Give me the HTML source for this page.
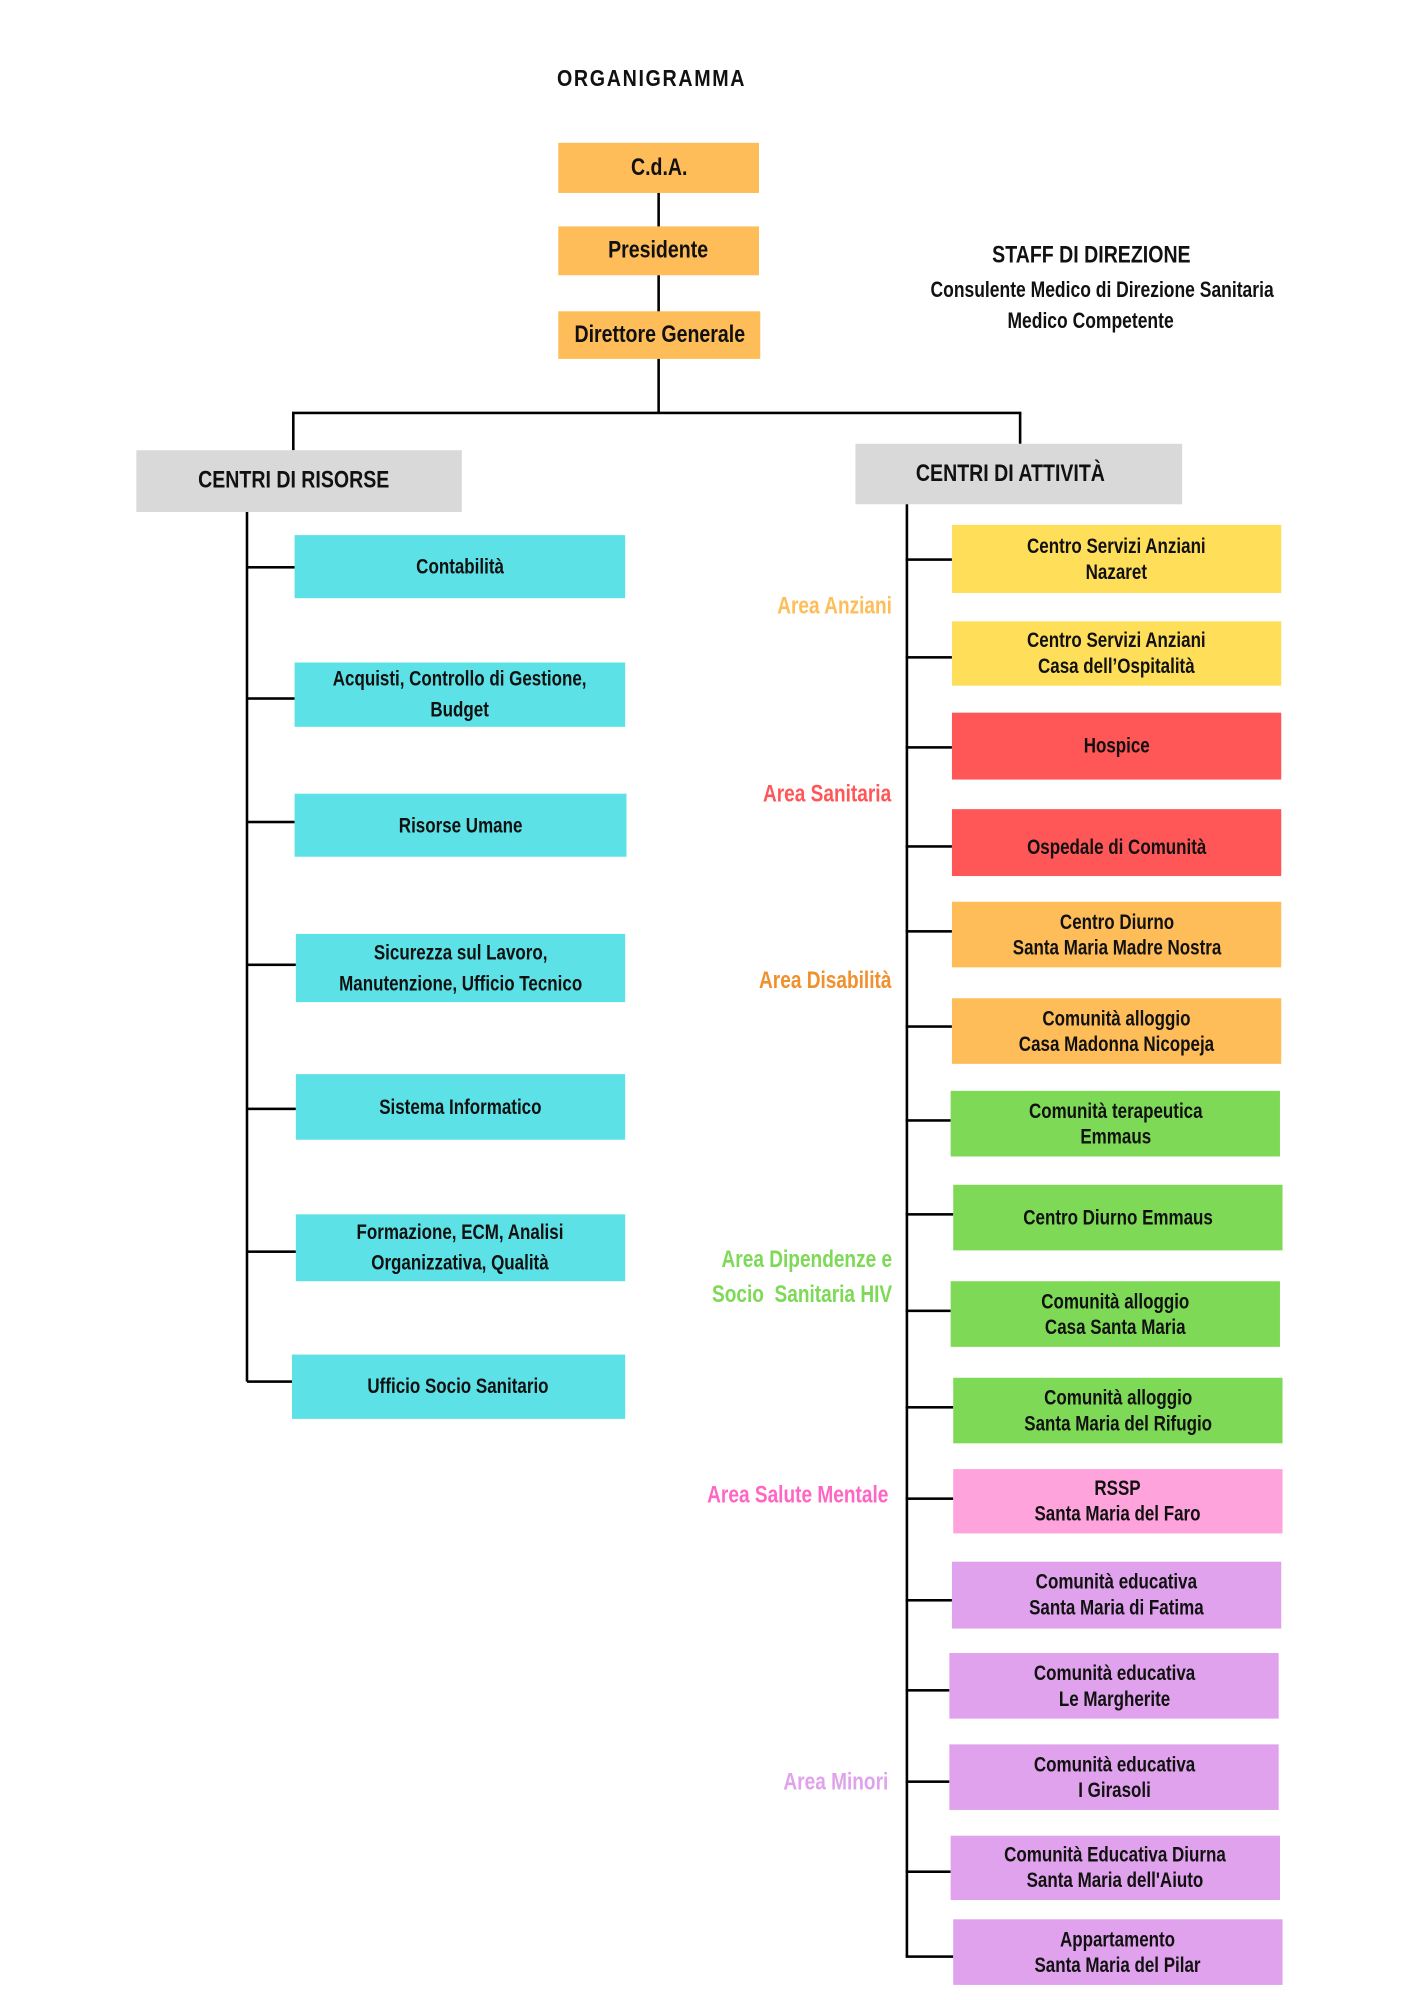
<!DOCTYPE html>
<html><head><meta charset="utf-8">
<style>
html,body{margin:0;padding:0;background:#fff;}
body{width:1415px;height:2000px;overflow:hidden;position:relative;}
#c{position:absolute;left:0;top:0;width:1100px;height:1555px;transform:scale(1.2864);transform-origin:0 0;
font-family:"Liberation Sans",sans-serif;font-weight:bold;color:#111;}
.b{position:absolute;display:flex;align-items:center;justify-content:center;text-align:center;font-size:16.5px;line-height:20px;}
.s{display:inline-block;transform:scaleX(.8);white-space:nowrap;}
.h{position:absolute;background:#000;height:1.5px;}
.v{position:absolute;background:#000;width:1.5px;}
.t{position:absolute;white-space:nowrap;}
.cy{background:#5CE1E6}.ye{background:#FFDE59}.rd{background:#FF5757}.or{background:#FFBD59}.gr{background:#7ED957}.pk{background:#FFA3DD}.li{background:#E0A2EC}
.a{position:absolute;right:407px;text-align:right;font-size:19px;line-height:27px;white-space:nowrap;transform:scaleX(.78);transform-origin:100% 50%;font-weight:bold;}
</style></head><body><div id="c">
<div class="t" style="left:406px;width:200px;text-align:center;top:51px;font-size:18px;letter-spacing:1.5px"><span class="s" style="transform:scaleX(.85)">ORGANIGRAMMA</span></div>

<div class="b or" style="left:434px;top:111px;width:156px;height:39px;font-size:19px"><span class="s">C.d.A.</span></div>
<div class="b or" style="left:434px;top:176px;width:156px;height:38px;font-size:19px"><span class="s">Presidente</span></div>
<div class="b or" style="left:434px;top:242px;width:157px;height:37px;font-size:19px"><span class="s">Direttore Generale</span></div>
<div class="v" style="left:511px;top:150px;height:26px"></div>
<div class="v" style="left:511px;top:214px;height:28px"></div>
<div class="v" style="left:511px;top:279px;height:42px"></div>
<div class="h" style="left:227px;top:320px;width:567px"></div>
<div class="v" style="left:227px;top:321px;height:29px"></div>
<div class="v" style="left:792px;top:321px;height:24px"></div>

<div class="t" style="left:690px;width:316px;text-align:center;top:188px;font-size:19px"><span class="s">STAFF DI DIREZIONE</span></div>
<div class="t" style="left:690px;width:316px;text-align:center;top:216px;font-size:17px"><span class="s">Consulente Medico di Direzione Sanitaria</span></div>
<div class="t" style="left:690px;width:316px;text-align:center;top:240px;font-size:17px"><span class="s">Medico Competente</span></div>

<div class="b" style="left:106px;top:350px;width:253px;height:48px;background:#D9D9D9;font-size:19px;justify-content:flex-start;padding-left:48px;box-sizing:border-box"><span class="s" style="transform-origin:0 50%">CENTRI DI RISORSE</span></div>
<div class="b" style="left:665px;top:345px;width:254px;height:47px;background:#D9D9D9;font-size:19px;justify-content:flex-start;padding-left:47px;box-sizing:border-box"><span class="s" style="transform-origin:0 50%">CENTRI DI ATTIVITÀ</span></div>

<div class="v" style="left:191px;top:398px;height:676px"></div>
<div class="h" style="left:192px;top:440px;width:37px"></div>
<div class="h" style="left:192px;top:542px;width:37px"></div>
<div class="h" style="left:192px;top:638px;width:37px"></div>
<div class="h" style="left:192px;top:749px;width:38px"></div>
<div class="h" style="left:192px;top:861px;width:38px"></div>
<div class="h" style="left:192px;top:972px;width:38px"></div>
<div class="h" style="left:192px;top:1073px;width:35px"></div>
<div class="b cy" style="left:229px;top:416px;width:257px;height:49px"><span class="s">Contabilità</span></div>
<div class="b cy" style="left:229px;top:515px;width:257px;height:50px;line-height:24px"><span class="s">Acquisti, Controllo di Gestione,<br>Budget</span></div>
<div class="b cy" style="left:229px;top:617px;width:258px;height:49px"><span class="s">Risorse Umane</span></div>
<div class="b cy" style="left:230px;top:726px;width:256px;height:53px;line-height:24px"><span class="s">Sicurezza sul Lavoro,<br>Manutenzione, Ufficio Tecnico</span></div>
<div class="b cy" style="left:230px;top:835px;width:256px;height:51px"><span class="s">Sistema Informatico</span></div>
<div class="b cy" style="left:230px;top:944px;width:256px;height:52px;line-height:24px"><span class="s">Formazione, ECM, Analisi<br>Organizzativa, Qualità</span></div>
<div class="b cy" style="left:227px;top:1053px;width:259px;height:50px"><span class="s">Ufficio Socio Sanitario</span></div>

<div class="v" style="left:704px;top:392px;height:1129px"></div>
<div class="h" style="left:704px;top:434px;width:36px"></div>
<div class="h" style="left:704px;top:510px;width:36px"></div>
<div class="h" style="left:704px;top:580px;width:36px"></div>
<div class="h" style="left:704px;top:657px;width:36px"></div>
<div class="h" style="left:704px;top:723px;width:36px"></div>
<div class="h" style="left:704px;top:797px;width:36px"></div>
<div class="h" style="left:704px;top:870px;width:35px"></div>
<div class="h" style="left:704px;top:943px;width:37px"></div>
<div class="h" style="left:704px;top:1018px;width:35px"></div>
<div class="h" style="left:704px;top:1093px;width:37px"></div>
<div class="h" style="left:704px;top:1164px;width:37px"></div>
<div class="h" style="left:704px;top:1243px;width:36px"></div>
<div class="h" style="left:704px;top:1313px;width:34px"></div>
<div class="h" style="left:704px;top:1384px;width:34px"></div>
<div class="h" style="left:704px;top:1454px;width:35px"></div>
<div class="h" style="left:704px;top:1520px;width:37px"></div>

<div class="b ye" style="left:740px;top:408px;width:256px;height:53px"><span class="s">Centro Servizi Anziani<br>Nazaret</span></div>
<div class="b ye" style="left:740px;top:483px;width:256px;height:50px"><span class="s">Centro Servizi Anziani<br>Casa dell’Ospitalità</span></div>
<div class="b rd" style="left:740px;top:554px;width:256px;height:52px"><span class="s">Hospice</span></div>
<div class="b rd" style="left:740px;top:629px;width:256px;height:52px;padding-top:8px;box-sizing:border-box"><span class="s">Ospedale di Comunità</span></div>
<div class="b or" style="left:740px;top:701px;width:256px;height:51px"><span class="s">Centro Diurno<br>Santa Maria Madre Nostra</span></div>
<div class="b or" style="left:740px;top:776px;width:256px;height:51px"><span class="s">Comunità alloggio<br>Casa Madonna Nicopeja</span></div>
<div class="b gr" style="left:739px;top:848px;width:256px;height:51px"><span class="s">Comunità terapeutica<br>Emmaus</span></div>
<div class="b gr" style="left:741px;top:921px;width:256px;height:51px"><span class="s">Centro Diurno Emmaus</span></div>
<div class="b gr" style="left:739px;top:996px;width:256px;height:51px"><span class="s">Comunità alloggio<br>Casa Santa Maria</span></div>
<div class="b gr" style="left:741px;top:1071px;width:256px;height:51px"><span class="s">Comunità alloggio<br>Santa Maria del Rifugio</span></div>
<div class="b pk" style="left:741px;top:1142px;width:256px;height:50px"><span class="s">RSSP<br>Santa Maria del Faro</span></div>
<div class="b li" style="left:740px;top:1214px;width:256px;height:52px"><span class="s">Comunità educativa<br>Santa Maria di Fatima</span></div>
<div class="b li" style="left:738px;top:1285px;width:256px;height:51px"><span class="s">Comunità educativa<br>Le Margherite</span></div>
<div class="b li" style="left:738px;top:1356px;width:256px;height:51px"><span class="s">Comunità educativa<br>I Girasoli</span></div>
<div class="b li" style="left:739px;top:1427px;width:256px;height:50px"><span class="s">Comunità Educativa Diurna<br>Santa Maria dell'Aiuto</span></div>
<div class="b li" style="left:741px;top:1492px;width:256px;height:51px"><span class="s">Appartamento<br>Santa Maria del Pilar</span></div>

<div class="a" style="top:458px;color:#FFBD59">Area Anziani</div>
<div class="a" style="top:604px;color:#FF5757">Area Sanitaria</div>
<div class="a" style="top:749px;color:#F0902E">Area Disabilità</div>
<div class="a" style="top:966px;color:#7ED957">Area Dipendenze e<br>Socio&nbsp; Sanitaria HIV</div>
<div class="a" style="top:1149px;right:409px;color:#FF66C4">Area Salute Mentale</div>
<div class="a" style="top:1372px;right:409px;color:#E0A2EC">Area Minori</div>
</div></body></html>
